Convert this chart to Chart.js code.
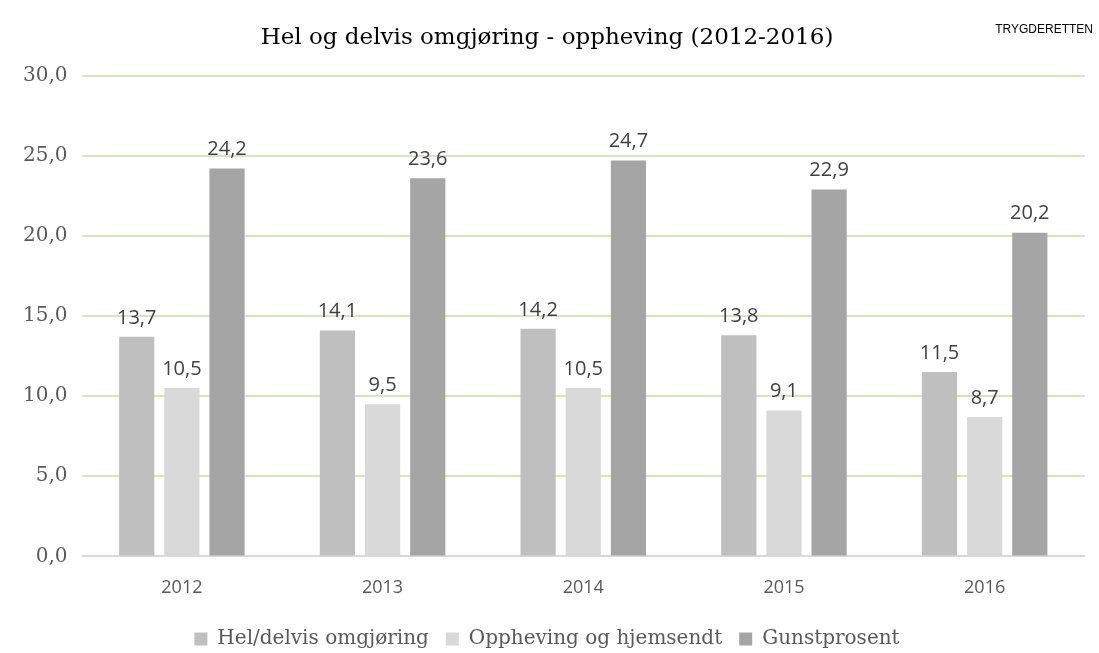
<!DOCTYPE html>
<html>
<head>
<meta charset="utf-8">
<script src="https://cdn.jsdelivr.net/npm/chart.js@4/dist/chart.umd.min.js"></script>
<style>
  body { margin: 0; background: #fff; }
  #wrap { position: relative; width: 1099px; height: 653px; }
  #corner { position: absolute; right: 6px; top: 22px; font: 12px "Liberation Sans", Arial, sans-serif; color: #000; }
</style>
</head>
<body>
<div id="wrap">
  <canvas id="chart" width="1099" height="653"></canvas>
  <div id="corner">TRYGDERETTEN</div>
</div>
<script>
var years = ['2012', '2013', '2014', '2015', '2016'];
var seriesNames = ['Hel/delvis omgjøring', 'Oppheving og hjemsendt', 'Gunstprosent'];
var helDelvis = [13.7, 14.1, 14.2, 13.8, 11.5];
var oppheving = [10.5, 9.5, 10.5, 9.1, 8.7];
var gunst = [24.2, 23.6, 24.7, 22.9, 20.2];
var yTicks = [0, 5, 10, 15, 20, 25, 30];

function komma(v) { return v.toFixed(1).replace('.', ','); }

// tall over hver stolpe
var barLabels = {
    id: 'barLabels',
    afterDatasetsDraw: function(chart) {
        var ctx = chart.ctx;
        ctx.save();
        ctx.font = '20px "Open Sans", sans-serif';
        ctx.fillStyle = '#404040';
        ctx.textAlign = 'center';
        ctx.textBaseline = 'bottom';
        chart.data.datasets.forEach(function(ds, i) {
            chart.getDatasetMeta(i).data.forEach(function(bar, j) {
                ctx.fillText(komma(ds.data[j]), bar.x, bar.y - 9);
            });
        });
        ctx.restore();
    }
};

var chart = new Chart(document.getElementById('chart'), {
    type: 'bar',
    data: {
        labels: years,
        datasets: [
            { label: seriesNames[0], data: helDelvis, backgroundColor: '#bfbfbf' },
            { label: seriesNames[1], data: oppheving, backgroundColor: '#d9d9d9' },
            { label: seriesNames[2], data: gunst, backgroundColor: '#a5a5a5' }
        ]
    },
    options: {
        responsive: false,
        animation: false,
        layout: { padding: { left: 9, right: 14, top: 12, bottom: -6 } },
        datasets: { bar: { categoryPercentage: 0.675, barPercentage: 0.78 } },
        plugins: {
            title: {
                display: true,
                text: 'Hel og delvis omgjøring - oppheving (2012-2016)',
                font: { family: '"DejaVu Serif", serif', size: 23, weight: 'normal' },
                color: '#000',
                padding: { top: 12, bottom: 24 }
            },
            legend: {
                position: 'bottom',
                labels: {
                    boxWidth: 13, boxHeight: 13, padding: 17,
                    color: '#595959',
                    font: { family: '"DejaVu Serif", serif', size: 20 }
                }
            },
            tooltip: { enabled: false }
        },
        scales: {
            x: {
                grid: { display: false },
                border: { display: false },
                ticks: { color: '#595959', font: { family: '"Open Sans", sans-serif', size: 18 }, padding: 13 }
            },
            y: {
                min: 0, max: 30,
                afterBuildTicks: function(axis) { axis.ticks = yTicks.map(function(v) { return { value: v }; }); },
                border: { display: false },
                grid: {
                    color: function(c) { return c.tick && c.tick.value === 0 ? '#d9d9d9' : '#d8e4bc'; },
                    lineWidth: 2,
                    drawTicks: false
                },
                ticks: {
                    color: '#595959',
                    padding: 14,
                    font: { family: '"DejaVu Serif", serif', size: 20 },
                    callback: function(v) { return komma(v); }
                }
            }
        }
    },
    plugins: [barLabels]
});
</script>
</body>
</html>
